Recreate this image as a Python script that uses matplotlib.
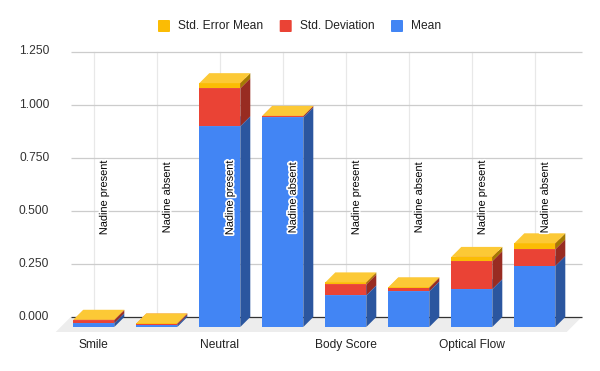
import matplotlib
matplotlib.use("Agg")
import matplotlib.pyplot as plt
from matplotlib.patches import Polygon, FancyBboxPatch
import matplotlib.patheffects as pe
from matplotlib import font_manager

# ---- data ----
groups = ["Smile", "Neutral", "Body Score", "Optical Flow"]
conditions = ["Nadine present", "Nadine absent"]
series_names = ["Mean", "Std. Deviation", "Std. Error Mean"]
mean = [0.018, 0.009, 0.945, 0.987, 0.149, 0.168, 0.178, 0.287]
std_dev = [0.014, 0.007, 0.179, 0.006, 0.052, 0.016, 0.132, 0.079]
std_err = [0.002, 0.001, 0.024, 0.001, 0.009, 0.003, 0.020, 0.028]
yticks = [0.0, 0.25, 0.5, 0.75, 1.0, 1.25]

colors = ["#4285F4", "#EA4335", "#FBBC04"]


def shade(c, f):
    c = matplotlib.colors.to_rgb(c)
    return tuple(v * f for v in c)


def tint(c, f):
    c = matplotlib.colors.to_rgb(c)
    return tuple(v + (1 - v) * f for v in c)


W, H = 600, 371
fig = plt.figure(figsize=(W / 100, H / 100), dpi=100)
ax = fig.add_axes([0, 0, 1, 1])
ax.set_axis_off()

px_per_slot = 63.0
px_per_unit = 212.4
x0px, y0px = 93.8, 317.0
ax.set_xlim(-x0px / px_per_slot, (W - x0px) / px_per_slot)
ax.set_ylim((y0px - H) / px_per_unit, y0px / px_per_unit)

dx = 10 / px_per_slot
dy = 10 / px_per_unit
bw = 41 / px_per_slot

gl_left = (70.7 - x0px) / px_per_slot
gl_right = (581.7 - x0px) / px_per_slot

n = len(mean)
font = ["Liberation Sans", "DejaVu Sans"]
names = {f.name for f in font_manager.fontManager.ttflist}
if "Liberation Sans Narrow" in names:
    ann_font = ["Liberation Sans Narrow", "Liberation Sans"]
    ann_size = 9.36
else:
    ann_font = font
    ann_size = 7.92

# floor
fd = 15
floor = Polygon([(gl_left, 0), (gl_right, 0),
                 (gl_right - fd / px_per_slot, -fd / px_per_unit),
                 (gl_left - fd / px_per_slot, -fd / px_per_unit)],
                closed=True, facecolor="#ededed", edgecolor="none", zorder=1)
ax.add_patch(floor)

# gridlines
for t in yticks:
    if t == 0:
        continue
    ax.plot([gl_left, gl_right], [t, t], color="#cccccc", lw=0.9, zorder=2,
            solid_capstyle="butt")
for i in range(n):
    ax.plot([i, i], [0, yticks[-1]], color="#e8e8e8", lw=0.9, zorder=1.5)
ax.plot([gl_left, gl_right], [0, 0], color="#333333", lw=0.9, zorder=2.5,
        solid_capstyle="butt")

# y tick labels
for t in yticks:
    ax.text((49.3 - x0px) / px_per_slot, t, f"{t:.3f}", ha="right", va="center",
            fontsize=8.64, family=font, color="#333333")

# bars
for i in range(n):
    vals = [mean[i], std_dev[i], std_err[i]]
    s0 = 0.0
    xl, xr = i - bw / 2, i + bw / 2
    for k, v in enumerate(vals):
        s1 = s0 + v
        c = colors[k]
        z = 5 + i * 0.1 + k * 0.01
        front = Polygon([(xl, s0 - dy), (xr, s0 - dy), (xr, s1 - dy), (xl, s1 - dy)],
                        closed=True, facecolor=c, edgecolor="none", zorder=z)
        side = Polygon([(xr, s0 - dy), (xr + dx, s0), (xr + dx, s1), (xr, s1 - dy)],
                       closed=True, facecolor=shade(c, 0.65), edgecolor="none", zorder=z)
        top = Polygon([(xl, s1 - dy), (xr, s1 - dy), (xr + dx, s1), (xl + dx, s1)],
                      closed=True, facecolor=tint(c, 0.2), edgecolor="none", zorder=z)
        for p in (front, side, top):
            ax.add_patch(p)
        s0 = s1

# annotations
for i in range(n):
    ax.text(i + dx, (y0px - 197.8) / px_per_unit, conditions[i % 2], rotation=90,
            ha="center", va="center", fontsize=ann_size, family=ann_font,
            color="#000000", zorder=20,
            path_effects=[pe.withStroke(linewidth=2.5, foreground="white")])

# category labels
for g, name in enumerate(groups):
    ax.text(2 * g, (y0px - 345) / px_per_unit, name, ha="center", va="center",
            fontsize=8.64, family=font, color="#222222")

# legend (figure pixel coords)
legend_items = [("Std. Error Mean", colors[2], 158, 178),
                ("Std. Deviation", colors[1], 279.7, 299.6),
                ("Mean", colors[0], 391, 411)]
for label, c, sx, tx in legend_items:
    sq = FancyBboxPatch((sx / W, 1 - 32 / H), 12 / W, 12 / H,
                        boxstyle="round,pad=0,rounding_size=0.002",
                        transform=fig.transFigure, facecolor=c, edgecolor="none")
    fig.patches.append(sq)
    fig.text(tx / W, 1 - 25.7 / H, label, ha="left", va="center",
             fontsize=8.64, family=font, color="#222222")

fig.savefig("out.png", dpi=100)
